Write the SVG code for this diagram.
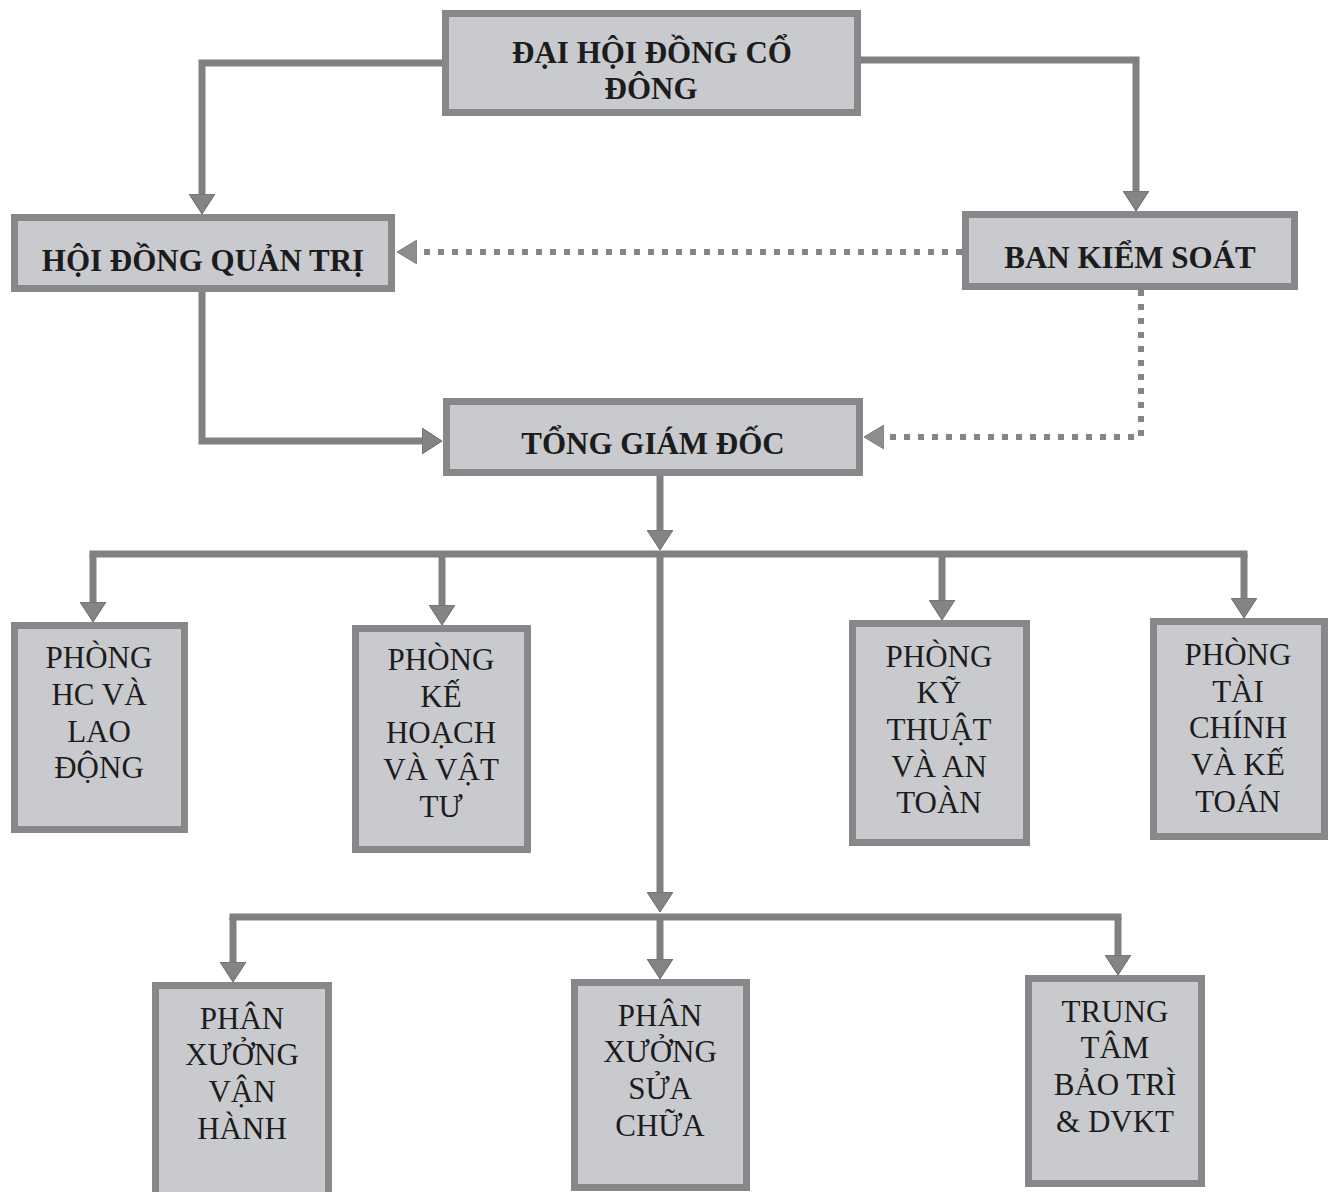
<svg xmlns="http://www.w3.org/2000/svg" width="1336" height="1192" viewBox="0 0 1336 1192">
<style>
  .box { fill: #c9cace; stroke: #88888a; stroke-width: 7; }
  text { font-family: "Liberation Serif", "DejaVu Serif", serif; fill: #1c1c1c; text-anchor: middle; font-size: 31px; }
  .tb { font-weight: bold; }
  .ln { fill: none; stroke: #808082; stroke-width: 7; stroke-linejoin: miter; }
  .arr { marker-end: url(#ah); }
  .dot { fill: none; stroke: #858587; stroke-width: 6; stroke-dasharray: 6 8; marker-end: url(#ahd); }
  .bus { fill: none; stroke: #808082; stroke-width: 7; stroke-linecap: square; }
</style>
<defs>
  <marker id="ah" markerUnits="userSpaceOnUse" viewBox="0 0 20 26" markerWidth="20" markerHeight="26" refX="0" refY="13" orient="auto">
    <path d="M0,0 L20,13 L0,26 Z" fill="#848486" stroke="#6a6a6c" stroke-width="1"/>
  </marker>
  <marker id="ahd" markerUnits="userSpaceOnUse" viewBox="0 0 20 24" markerWidth="20" markerHeight="24" refX="0" refY="12" orient="auto">
    <path d="M0,0 L20,12 L0,24 Z" fill="#8e8e90" stroke="#7a7a7c" stroke-width="1"/>
  </marker>
</defs>
<rect x="0" y="0" width="1336" height="1192" fill="#ffffff"/>

<g id="connectors">
  <path class="ln arr" d="M442 63 H202 V194"/>
  <path class="ln arr" d="M861 60 H1136 V191"/>
  <path class="ln arr" d="M202 292 V441 H422"/>
  <path class="ln arr" d="M660 476 V530"/>
  <path class="bus" d="M93 554 H1244"/>
  <path class="ln arr" d="M93 554 V602"/>
  <path class="ln arr" d="M442 554 V605"/>
  <path class="ln arr" d="M942 554 V600"/>
  <path class="ln arr" d="M1244 554 V598"/>
  <path class="ln arr" d="M660 554 V892"/>
  <path class="bus" d="M233 917 H1118"/>
  <path class="ln arr" d="M233 917 V962"/>
  <path class="ln arr" d="M660 917 V959"/>
  <path class="ln arr" d="M1118 917 V955"/>
  <path class="dot" d="M962 252 H417"/>
  <path class="dot" d="M1141 290 V437 H884"/>
</g>

<g id="dai-hoi-dong-co-dong">
  <rect class="box" x="445.5" y="13.5" width="412" height="99"/>
  <text class="tb" x="652" y="63">ĐẠI HỘI ĐỒNG CỔ</text>
  <text class="tb" x="651" y="99">ĐÔNG</text>
</g>
<g id="hoi-dong-quan-tri">
  <rect class="box" x="14.5" y="217.5" width="377" height="71"/>
  <text class="tb" x="203" y="271">HỘI ĐỒNG QUẢN TRỊ</text>
</g>
<g id="ban-kiem-soat">
  <rect class="box" x="965.5" y="214.5" width="329" height="72"/>
  <text class="tb" x="1130" y="268">BAN KIỂM SOÁT</text>
</g>
<g id="tong-giam-doc">
  <rect class="box" x="446.5" y="401.5" width="413" height="71"/>
  <text class="tb" x="653" y="454">TỔNG GIÁM ĐỐC</text>
</g>

<g id="phong-hc">
  <rect class="box" x="14.5" y="625.5" width="170" height="204"/>
  <text x="99" y="668">PHÒNG</text>
  <text x="99" y="705">HC VÀ</text>
  <text x="99" y="742">LAO</text>
  <text x="99" y="778">ĐỘNG</text>
</g>
<g id="phong-ke-hoach">
  <rect class="box" x="355.5" y="628.5" width="172" height="221"/>
  <text x="441" y="670">PHÒNG</text>
  <text x="441" y="707">KẾ</text>
  <text x="441" y="743">HOẠCH</text>
  <text x="441" y="780">VÀ VẬT</text>
  <text x="441" y="817">TƯ</text>
</g>
<g id="phong-ky-thuat">
  <rect class="box" x="852.5" y="623.5" width="174" height="219"/>
  <text x="939" y="667">PHÒNG</text>
  <text x="939" y="703">KỸ</text>
  <text x="939" y="740">THUẬT</text>
  <text x="939" y="777">VÀ AN</text>
  <text x="939" y="813">TOÀN</text>
</g>
<g id="phong-tai-chinh">
  <rect class="box" x="1153.5" y="621.5" width="171" height="215"/>
  <text x="1238" y="665">PHÒNG</text>
  <text x="1238" y="702">TÀI</text>
  <text x="1238" y="738">CHÍNH</text>
  <text x="1238" y="775">VÀ KẾ</text>
  <text x="1238" y="812">TOÁN</text>
</g>

<g id="phan-xuong-van-hanh">
  <rect class="box" x="155.5" y="985.5" width="173" height="220"/>
  <text x="242" y="1029">PHÂN</text>
  <text x="242" y="1065">XƯỞNG</text>
  <text x="242" y="1102">VẬN</text>
  <text x="242" y="1139">HÀNH</text>
</g>
<g id="phan-xuong-sua-chua">
  <rect class="box" x="574.5" y="982.5" width="172" height="205"/>
  <text x="660" y="1026">PHÂN</text>
  <text x="660" y="1062">XƯỞNG</text>
  <text x="660" y="1099">SỬA</text>
  <text x="660" y="1136">CHỮA</text>
</g>
<g id="trung-tam-bao-tri">
  <rect class="box" x="1028.5" y="978.5" width="173" height="205"/>
  <text x="1115" y="1022">TRUNG</text>
  <text x="1115" y="1058">TÂM</text>
  <text x="1115" y="1095">BẢO TRÌ</text>
  <text x="1115" y="1132">&amp; DVKT</text>
</g>
</svg>
